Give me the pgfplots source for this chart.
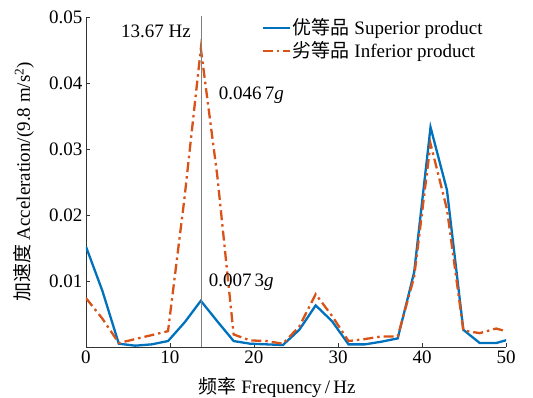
\documentclass[border=0pt]{standalone}
\usepackage{fontspec}
\setmainfont{Liberation Serif}
\newfontfamily\cjk{Noto Sans CJK SC}
\usepackage{pgfplots}
\pgfplotsset{compat=1.18}
\definecolor{mblue}{RGB}{0,114,189}
\definecolor{morange}{RGB}{217,83,25}
\begin{document}
\begin{tikzpicture}
\begin{axis}[
  name=ax,
  scale only axis, width=420pt, height=330pt,
  xmin=0, xmax=50, ymin=0, ymax=0.05,
  axis x line=bottom, axis y line=left,
  axis line style={-, black!80, line width=0.7pt},
  tick align=inside, major tick length=4pt,
  tick style={black!80, line width=0.7pt},
  xtick={0,10,20,30,40,50},
  ytick={0.01,0.02,0.03,0.04,0.05},
  scaled y ticks=false,
  yticklabel style={/pgf/number format/fixed, /pgf/number format/precision=2, /pgf/number format/fixed zerofill},
  /pgf/number format/assume math mode=true,
  font=\fontsize{19}{22}\selectfont,
  tick label style={font=\fontsize{19}{22}\selectfont},
  xlabel={{\cjk 频率} Frequency\,/\,Hz},
  ylabel={{\cjk 加速度} Acceleration/(9.8 m/s\textsuperscript{2})},
  xlabel style={at={(axis description cs:0.455,-0.124)}, anchor=center},
  ylabel style={at={(axis description cs:-0.148,0.5)}, anchor=center},
  legend style={draw=none, fill=none, at={(rel axis cs:0.41,1.007)}, anchor=north west, font=\fontsize{19}{22}\selectfont, row sep=1.5pt},
  legend cell align=left,
  legend image code/.code={\draw[#1] (0pt,0pt) -- (27pt,0pt);},
]
\addplot[mblue, line width=2.3pt] coordinates {
(0,0.0152) (1.953,0.0085) (3.906,0.0005) (5.859,0.0002) (7.813,0.0004) (9.766,0.0009)
(11.719,0.0037) (13.672,0.0070) (15.625,0.0039) (17.578,0.0009) (19.531,0.0005) (21.484,0.0004)
(23.438,0.0003) (25.391,0.0026) (27.344,0.0063) (29.297,0.0039) (31.25,0.0004) (33.203,0.0004)
(35.156,0.0008) (37.109,0.0013) (39.063,0.0113) (41.016,0.0333) (42.969,0.0238) (44.922,0.0026)
(46.875,0.0006) (48.828,0.0006) (50.781,0.0013)};
\addlegendentry{{\cjk 优等品} Superior product}
\addplot[morange, line width=2.3pt, dash pattern=on 10pt off 4pt on 2.5pt off 4pt] coordinates {
(0,0.0074) (1.953,0.0043) (3.906,0.0006) (5.859,0.0012) (7.813,0.0018) (9.766,0.0024)
(11.719,0.0225) (13.672,0.0452) (15.625,0.0260) (17.578,0.0019) (19.531,0.0010) (21.484,0.0009)
(23.438,0.0005) (25.391,0.0031) (27.344,0.0080) (29.297,0.0047) (31.25,0.0009) (33.203,0.0012)
(35.156,0.0016) (37.109,0.0016) (39.063,0.0106) (41.016,0.0308) (42.969,0.0209) (44.922,0.0025)
(46.875,0.0021) (48.828,0.0028) (50.781,0.0021)};
\addlegendentry{{\cjk 劣等品} Inferior product}
\addplot[gray, line width=0.6pt, forget plot] coordinates {(13.67,0) (13.67,0.0505)};
\node[anchor=east, font=\fontsize{19}{22}\selectfont] at (axis cs:12.9,0.0478) {13.67 Hz};
\node[anchor=west, font=\fontsize{19}{22}\selectfont] at (axis cs:15.4,0.0381) {0.046\,7\textit{g}};
\node[anchor=west, font=\fontsize{19}{22}\selectfont] at (axis cs:14.2,0.0098) {0.007\,3\textit{g}};
\end{axis}
\pgfresetboundingbox
\path[use as bounding box] ([shift={(-86pt,-51pt)}]ax.south west) rectangle ([shift={(27pt,17pt)}]ax.north east);
\end{tikzpicture}
\end{document}
